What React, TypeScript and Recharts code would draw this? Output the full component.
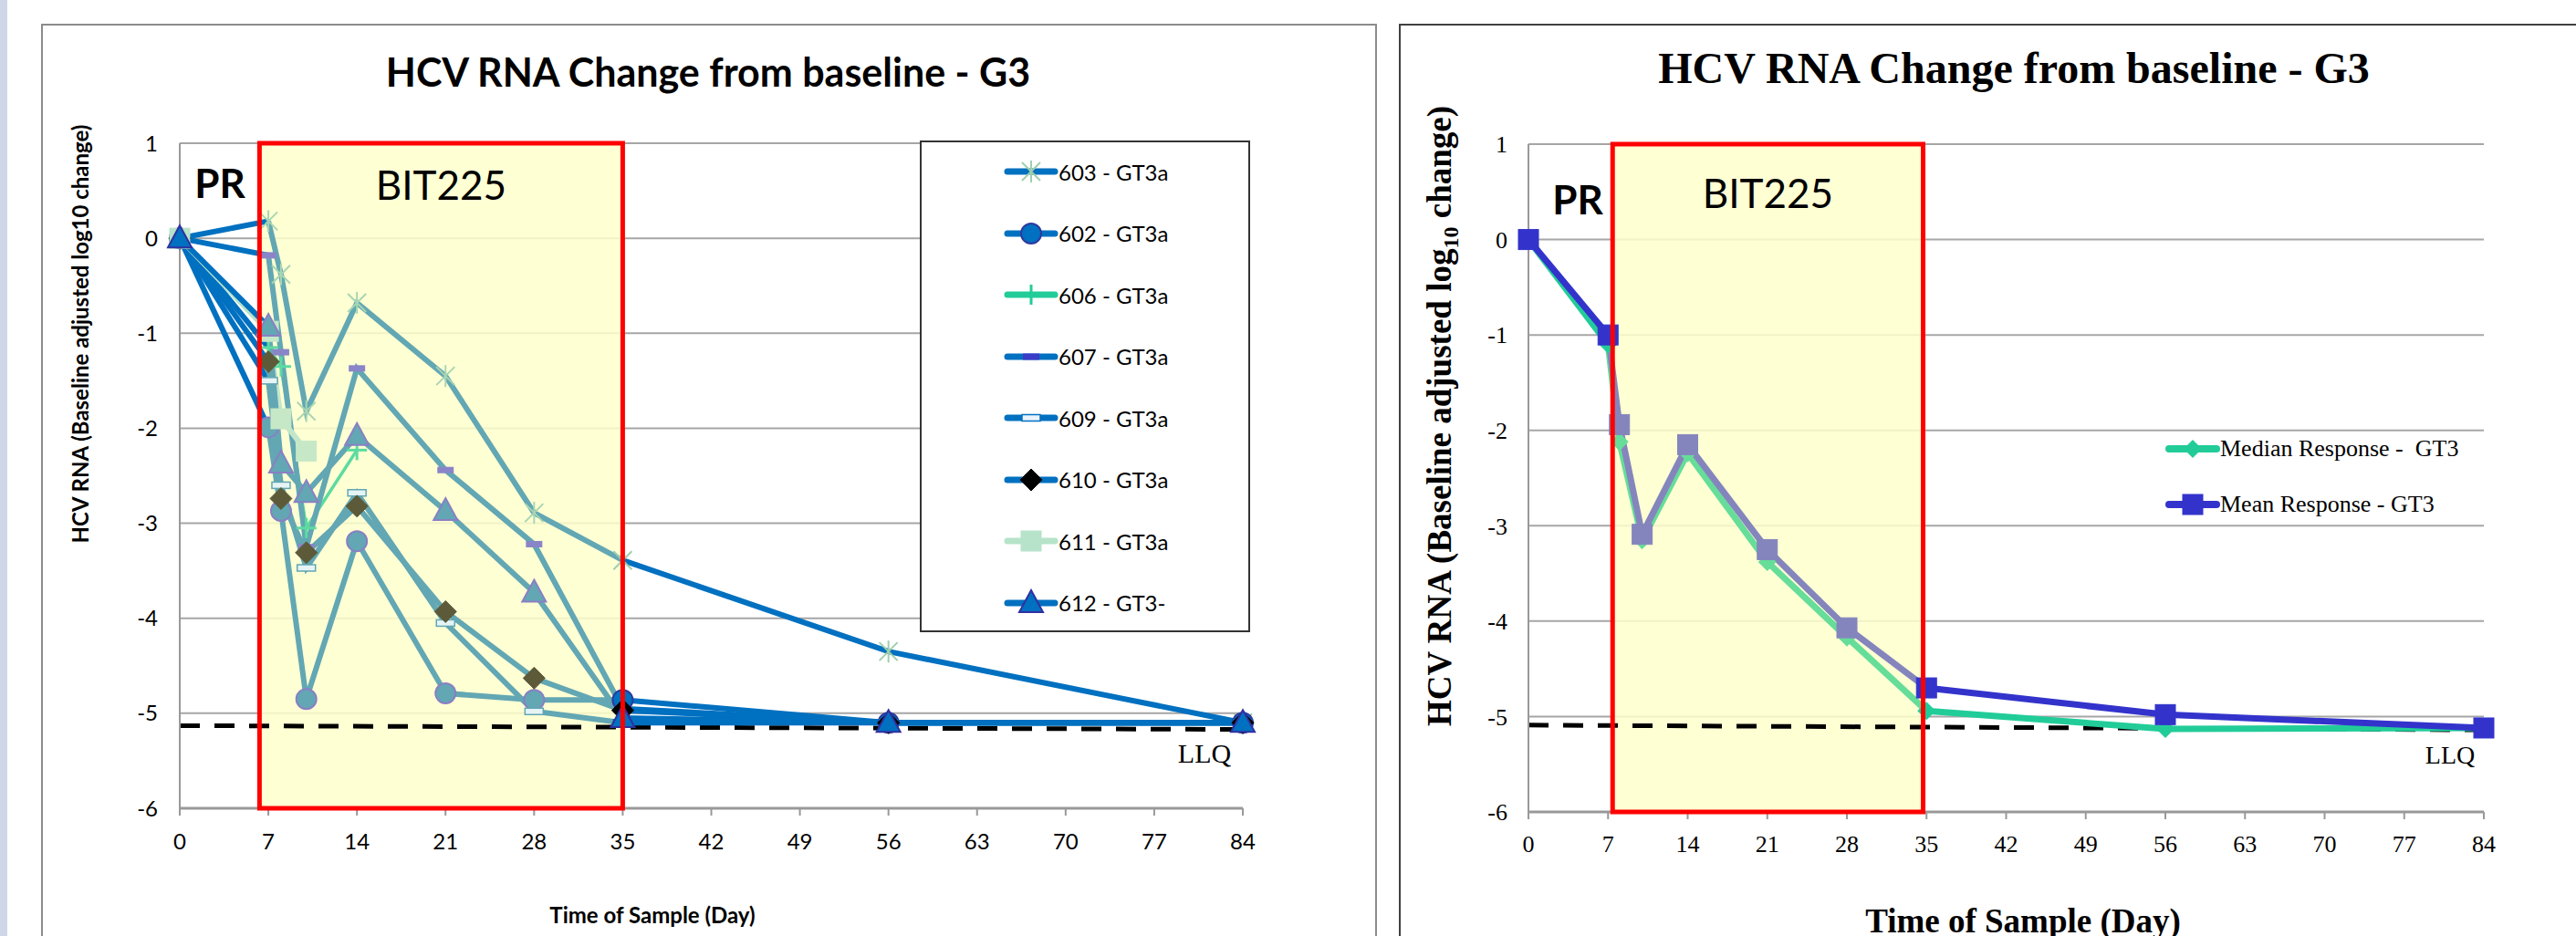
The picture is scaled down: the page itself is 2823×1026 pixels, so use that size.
import React from "react";
import {
  LineChart,
  Line,
  XAxis,
  YAxis,
  CartesianGrid,
  ReferenceArea,
  ReferenceLine,
  Legend,
  Label,
} from "recharts";

// sample days and axis ticks
const days = [0, 7, 8, 10, 14, 21, 28, 35, 56, 84];
const dayTicks = [0, 7, 14, 21, 28, 35, 42, 49, 56, 63, 70, 77, 84];
const logTicks = [-6, -5, -4, -3, -2, -1, 0, 1];

// individual patients (baseline adjusted log10 change), null = no sample
const p603 = [0, 0.18, -0.38, -1.82, -0.68, -1.45, -2.89, -3.39, -4.35, -5.1];
const p602 = [0, -1.99, -2.87, -4.85, -3.19, -4.79, -4.86, -4.86, -5.1, -5.1];
const p606 = [0, -1.15, -1.35, -3.05, -2.23, null, null, null, null, null];
const p607 = [0, -0.18, -1.2, -3.25, -1.37, -2.44, -3.22, -4.95, -5.1, -5.1];
const p609 = [0, -1.5, -2.6, -3.47, -2.68, -4.05, -4.98, -5.1, -5.1, -5.1];
const p610 = [0, -1.3, -2.74, -3.31, -2.82, -3.93, -4.63, -4.97, -5.1, -5.1];
const p611 = [0, -0.98, -1.9, -2.24, null, null, null, null, null, null];
const p612 = [0, -0.93, -2.37, -2.68, -2.08, -2.87, -3.73, -5.05, -5.1, -5.1];

// group summary
const medianGT3 = [0, -1.1, -2.12, -3.15, -2.24, -3.38, -4.17, -4.94, -5.13, -5.12];
const meanGT3 = [0, -1.0, -1.94, -3.09, -2.15, -3.25, -4.07, -4.7, -4.98, -5.12];

// LLQ dashed line (start / end value) and BIT225 dosing window (days)
const llqLeft = [-5.13, -5.17];
const llqRight = [-5.09, -5.14];
const bitLeft = [6.3, 35];
const bitRight = [7.4, 34.7];

const BLUE = "#0070c0";
const TEAL = "#62a7b3";
const SANS = "Lato, 'Open Sans', sans-serif";
const SERIF = "'Liberation Serif', 'Times New Roman', serif";

type Look = { fill: string; stroke: string };

const drawMarker = (kind: string, look: Look, cx: number, cy: number, key: string) => {
  switch (kind) {
    case "star": {
      const r = 12;
      const d = 10;
      return (
        <g key={key} stroke={look.stroke} strokeWidth={2}>
          <line x1={cx} y1={cy - r} x2={cx} y2={cy + r} />
          <line x1={cx - d} y1={cy - d} x2={cx + d} y2={cy + d} />
          <line x1={cx - d} y1={cy + d} x2={cx + d} y2={cy - d} />
        </g>
      );
    }
    case "circle":
      return <circle key={key} cx={cx} cy={cy} r={11} fill={look.fill} stroke={look.stroke} strokeWidth={2} />;
    case "plus":
      return (
        <g key={key} stroke={look.stroke} strokeWidth={3}>
          <line x1={cx - 11} y1={cy} x2={cx + 11} y2={cy} />
          <line x1={cx} y1={cy - 11} x2={cx} y2={cy + 11} />
        </g>
      );
    case "dash":
      return <rect key={key} x={cx - 9} y={cy - 3.5} width={18} height={7} fill={look.fill} />;
    case "eq":
      return (
        <rect key={key} x={cx - 10} y={cy - 3.5} width={20} height={7} fill={look.fill} stroke={look.stroke} strokeWidth={1.5} />
      );
    case "diamond":
      return (
        <polygon
          key={key}
          points={`${cx},${cy - 12} ${cx + 12},${cy} ${cx},${cy + 12} ${cx - 12},${cy}`}
          fill={look.fill}
          stroke={look.stroke}
          strokeWidth={1}
        />
      );
    case "smalldiamond":
      return (
        <polygon
          key={key}
          points={`${cx},${cy - 10} ${cx + 10},${cy} ${cx},${cy + 10} ${cx - 10},${cy}`}
          fill={look.fill}
        />
      );
    case "square":
      return <rect key={key} x={cx - 11} y={cy - 11} width={22} height={22} fill={look.fill} stroke={look.stroke} strokeWidth={1} />;
    case "triangle":
      return (
        <polygon
          key={key}
          points={`${cx},${cy - 14} ${cx + 13},${cy + 10} ${cx - 13},${cy + 10}`}
          fill={look.fill}
          stroke={look.stroke}
          strokeWidth={2}
        />
      );
    default:
      return <g key={key} />;
  }
};

const leftSeries = [
  { id: "603", name: "603 - GT3a", values: p603, kind: "star", pre: BLUE, win: TEAL, winW: 6, legend: BLUE,
    out: { fill: "none", stroke: "#9fcfac" }, inn: { fill: "none", stroke: "#a8d6b2" } },
  { id: "602", name: "602 - GT3a", values: p602, kind: "circle", pre: BLUE, win: TEAL, winW: 6, legend: BLUE,
    out: { fill: BLUE, stroke: "#2e3a9e" }, inn: { fill: TEAL, stroke: "#8a7fc4" } },
  { id: "606", name: "606 - GT3a", values: p606, kind: "plus", pre: BLUE, win: "#5cdba0", winW: 3.5, legend: "#22cc99",
    out: { fill: "none", stroke: "#22cc99" }, inn: { fill: "none", stroke: "#5cdba0" } },
  { id: "607", name: "607 - GT3a", values: p607, kind: "dash", pre: BLUE, win: TEAL, winW: 6, legend: BLUE,
    out: { fill: "#3b3bc8", stroke: "none" }, inn: { fill: "#8a85c8", stroke: "none" } },
  { id: "609", name: "609 - GT3a", values: p609, kind: "eq", pre: BLUE, win: TEAL, winW: 6, legend: BLUE,
    out: { fill: "#eaf3fb", stroke: BLUE }, inn: { fill: "#e6f4f5", stroke: TEAL } },
  { id: "610", name: "610 - GT3a", values: p610, kind: "diamond", pre: BLUE, win: TEAL, winW: 6, legend: BLUE,
    out: { fill: "#000000", stroke: "#000000" }, inn: { fill: "#5c5a38", stroke: "#5c5a38" } },
  { id: "611", name: "611 - GT3a", values: p611, kind: "square", pre: "#b6e3c9", win: "#c3e6cb", winW: 6, legend: "#b6e3c9",
    out: { fill: "#b6e3c9", stroke: "#b6e3c9" }, inn: { fill: "#c6e8c6", stroke: "#c6e8c6" } },
  { id: "612", name: "612 - GT3-", values: p612, kind: "triangle", pre: BLUE, win: TEAL, winW: 6, legend: BLUE,
    out: { fill: BLUE, stroke: "#3030a0" }, inn: { fill: TEAL, stroke: "#8a7fc4" } },
];

const rightSeries = [
  { id: "median", name: "Median Response -  GT3", values: medianGT3, kind: "smalldiamond", pre: "#22cc99", win: "#66dd99", winW: 7, legend: "#22cc99",
    out: { fill: "#22cc99", stroke: "#22cc99" }, inn: { fill: "#66dd99", stroke: "#66dd99" } },
  { id: "mean", name: "Mean Response - GT3", values: meanGT3, kind: "square", pre: "#3333cc", win: "#8585bd", winW: 7, legend: "#3333cc",
    out: { fill: "#3333cc", stroke: "#3333cc" }, inn: { fill: "#8585bd", stroke: "#8585bd" } },
];

// split every series in three pieces: PR lead-in, BIT225 window, follow-up
const buildRows = (series: any[]) =>
  days.map((day, i) => {
    const row: any = { day };
    series.forEach((s) => {
      const v = s.values[i];
      if (v == null) return;
      if (day <= 7) row[`${s.id}_pre`] = v;
      if (day >= 7 && day <= 35) row[`${s.id}_win`] = v;
      if (day >= 35) row[`${s.id}_post`] = v;
    });
    return row;
  });

const leftRows = buildRows(leftSeries);
const rightRows = buildRows(rightSeries);

const makeDot = (s: any, seg: string, showDays: number[]) => (props: any) => {
  const { cx, cy, index, payload } = props;
  const key = `${s.id}-${seg}-${index}`;
  if (cx == null || cy == null || !payload) return <g key={key} />;
  const v = payload[`${s.id}_${seg}`];
  if (v == null || !showDays.includes(payload.day)) return <g key={key} />;
  return drawMarker(s.kind, seg === "win" ? s.inn : s.out, cx, cy, key);
};

const renderSegments = (series: any[], dotDays: { pre: number[]; win: number[]; post: number[] }, outW: number) => {
  const lines: any[] = [];
  (["pre", "win", "post"] as const).forEach((seg) => {
    series.forEach((s) => {
      lines.push(
        <Line
          key={`${s.id}_${seg}`}
          type="linear"
          dataKey={`${s.id}_${seg}`}
          stroke={seg === "win" ? s.win : s.pre}
          strokeWidth={seg === "win" ? s.winW : outW}
          dot={makeDot(s, seg, dotDays[seg])}
          activeDot={false}
          isAnimationActive={false}
          legendType="none"
        />
      );
    });
  });
  return lines;
};

const LeftLegend = () => (
  <div
    style={{
      width: 362,
      height: 539,
      border: "2px solid #333",
      boxSizing: "border-box",
      background: "#fff",
      position: "relative",
    }}
  >
    {leftSeries.map((s, i) => (
      <div
        key={s.id}
        style={{ position: "absolute", left: 90, top: 16 + i * 67.5, height: 32, display: "flex", alignItems: "center" }}
      >
        <svg width={60} height={32} style={{ display: "block" }}>
          <line x1={4} y1={16} x2={56} y2={16} stroke={s.legend} strokeWidth={7} strokeLinecap="round" />
          {drawMarker(s.kind, s.out, 30, 16, "m")}
        </svg>
        <span style={{ fontFamily: SANS, fontSize: 24, color: "#000", whiteSpace: "pre" }}>{s.name}</span>
      </div>
    ))}
  </div>
);

const RightLegend = () => (
  <div style={{ position: "relative", width: 400, height: 120 }}>
    {rightSeries.map((s, i) => (
      <div
        key={s.id}
        style={{ position: "absolute", left: 0, top: 6 + i * 61, height: 32, display: "flex", alignItems: "center" }}
      >
        <svg width={60} height={32} style={{ display: "block" }}>
          <line x1={4} y1={16} x2={56} y2={16} stroke={s.legend} strokeWidth={8} strokeLinecap="round" />
          {drawMarker(s.kind, s.out, 30, 16, "m")}
        </svg>
        <span style={{ fontFamily: SERIF, fontSize: 26, color: "#000", whiteSpace: "pre" }}>{s.name}</span>
      </div>
    ))}
  </div>
);

const abs = (x: number, y: number, extra: any = {}) => ({
  position: "absolute" as const,
  left: x,
  top: y,
  transform: "translate(-50%, -50%)",
  whiteSpace: "nowrap" as const,
  lineHeight: 1,
  color: "#000",
  ...extra,
});

const App = () => {
  return (
    <div style={{ position: "absolute", left: 0, top: 0, width: 2823, height: 1026, overflow: "hidden", background: "#fff" }}>
      <div style={{ position: "absolute", left: 0, top: 0, width: 8, height: 1026, background: "#cfd6e8" }} />
      <div style={{ position: "absolute", left: 45, top: 26, width: 1464, height: 1100, border: "2px solid #8c8c8c", boxSizing: "border-box" }} />
      <div style={{ position: "absolute", left: 1533, top: 26, width: 1400, height: 1100, border: "2px solid #404040", boxSizing: "border-box" }} />

      {/* left: individual patients */}
      <div style={{ position: "absolute", left: 0, top: 0 }}>
        <LineChart width={1509} height={1026} data={leftRows} margin={{ top: 157, right: 147, left: 137, bottom: 90 }}>
          <CartesianGrid horizontal vertical={false} stroke="#a6a6a6" strokeWidth={2} />
          <ReferenceArea x1={bitLeft[0]} x2={bitLeft[1]} y1={-6} y2={1} fill="#ffffcc" fillOpacity={0.85} stroke="none" />
          <ReferenceLine
            segment={[{ x: 0, y: llqLeft[0] }, { x: 84, y: llqLeft[1] }]}
            stroke="#000"
            strokeWidth={5}
            strokeDasharray="22 16"
          />
          <XAxis
            type="number"
            dataKey="day"
            domain={[0, 84]}
            ticks={dayTicks}
            height={50}
            axisLine={{ stroke: "#999", strokeWidth: 3 }}
            tickLine={{ stroke: "#999", strokeWidth: 2 }}
            tickSize={8}
            tickMargin={20}
            tick={{ fontSize: 24, fontFamily: SANS, fill: "#000" }}
          />
          <YAxis
            type="number"
            domain={[-6, 1]}
            ticks={logTicks}
            width={60}
            axisLine={{ stroke: "#999", strokeWidth: 2 }}
            tickLine={false}
            tickSize={0}
            tickMargin={24}
            tick={{ fontSize: 24, fontFamily: SANS, fill: "#000" }}
          />
          {renderSegments(leftSeries, { pre: [0], win: [7, 8, 10, 14, 21, 28], post: [35, 56, 84] }, 6)}
          <ReferenceArea x1={bitLeft[0]} x2={bitLeft[1]} y1={-6} y2={1} fill="none" stroke="#ff0000" strokeWidth={5} zIndex={1500}>
            <Label value="BIT225" position="insideTop" offset={31} fontSize={44} fontFamily={SANS} fill="#000" />
          </ReferenceArea>
          <Legend
            layout="horizontal"
            verticalAlign="middle"
            align="center"
            content={() => <LeftLegend />}
            wrapperStyle={{ left: 1008, top: 154, width: 362, height: 539 }}
          />
        </LineChart>
      </div>

      {/* right: median / mean */}
      <div style={{ position: "absolute", left: 1534, top: 0 }}>
        <LineChart width={1289} height={1026} data={rightRows} margin={{ top: 158, right: 101, left: 81, bottom: 86 }}>
          <CartesianGrid horizontal vertical={false} stroke="#a6a6a6" strokeWidth={2} />
          <ReferenceArea x1={bitRight[0]} x2={bitRight[1]} y1={-6} y2={1} fill="#ffffcc" fillOpacity={0.85} stroke="none" />
          <ReferenceLine
            segment={[{ x: 0, y: llqRight[0] }, { x: 84, y: llqRight[1] }]}
            stroke="#000"
            strokeWidth={5}
            strokeDasharray="22 16"
          />
          <XAxis
            type="number"
            dataKey="day"
            domain={[0, 84]}
            ticks={dayTicks}
            height={50}
            axisLine={{ stroke: "#999", strokeWidth: 3 }}
            tickLine={{ stroke: "#999", strokeWidth: 2 }}
            tickSize={8}
            tickMargin={18}
            tick={{ fontSize: 26, fontFamily: SERIF, fill: "#000" }}
          />
          <YAxis
            type="number"
            domain={[-6, 1]}
            ticks={logTicks}
            width={60}
            axisLine={{ stroke: "#999", strokeWidth: 2 }}
            tickLine={false}
            tickSize={0}
            tickMargin={23}
            tick={{ fontSize: 26, fontFamily: SERIF, fill: "#000" }}
          />
          {renderSegments(rightSeries, { pre: [0, 7], win: [8, 10, 14, 21, 28], post: [35, 56, 84] }, 7)}
          <ReferenceArea x1={bitRight[0]} x2={bitRight[1]} y1={-6} y2={1} fill="none" stroke="#ff0000" strokeWidth={5} zIndex={1500}>
            <Label value="BIT225" position="insideTop" offset={39} fontSize={44} fontFamily={SANS} fill="#000" />
          </ReferenceArea>
          <Legend
            layout="horizontal"
            verticalAlign="middle"
            align="center"
            content={() => <RightLegend />}
            wrapperStyle={{ left: 839, top: 470, width: 400, height: 120 }}
          />
        </LineChart>
      </div>

      {/* titles and annotations */}
      <div style={abs(776, 78, { fontFamily: SANS, fontWeight: 700, fontSize: 43 })}>HCV RNA Change from baseline - G3</div>
      <div style={abs(2207, 75, { fontFamily: SERIF, fontWeight: 700, fontSize: 48 })}>HCV RNA Change from baseline - G3</div>

      <div style={abs(88, 366, { fontFamily: SANS, fontWeight: 700, fontSize: 24, transform: "translate(-50%, -50%) rotate(-90deg)" })}>
        HCV RNA (Baseline adjusted log10 change)
      </div>
      <div style={abs(1577, 456, { fontFamily: SERIF, fontWeight: 700, fontSize: 37, transform: "translate(-50%, -50%) rotate(-90deg)" })}>
        HCV RNA (Baseline adjusted log<sub style={{ fontSize: "0.65em", lineHeight: 0 }}>10</sub> change)
      </div>

      <div style={abs(715, 1003, { fontFamily: SANS, fontWeight: 700, fontSize: 24 })}>Time of Sample (Day)</div>
      <div style={abs(2217, 1009, { fontFamily: SERIF, fontWeight: 700, fontSize: 37 })}>Time of Sample (Day)</div>

      <div style={abs(241, 200, { fontFamily: SANS, fontWeight: 700, fontSize: 44 })}>PR</div>
      <div style={abs(1729, 218, { fontFamily: SANS, fontWeight: 700, fontSize: 44 })}>PR</div>

      <div style={abs(1320, 826, { fontFamily: SERIF, fontSize: 30 })}>LLQ</div>
      <div style={abs(2685, 828, { fontFamily: SERIF, fontSize: 28 })}>LLQ</div>
    </div>
  );
};

export default App;
